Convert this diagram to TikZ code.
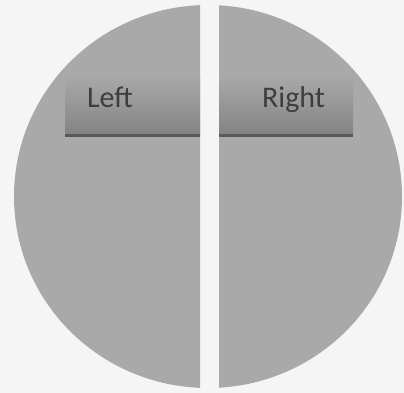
\documentclass[tikz,border=0pt]{standalone}
\usepackage{fontspec}
\setmainfont{Carlito}
\usetikzlibrary{calc}
\definecolor{paper}{HTML}{F5F5F5}
\definecolor{disc}{HTML}{A9A9A9}
\definecolor{tabbot}{HTML}{838383}
\definecolor{tabline}{HTML}{5A5A5A}
\definecolor{ink}{HTML}{3E3E3E}

\begin{document}
\begin{tikzpicture}[x=1pt,y=-1pt,
 tab/.style={anchor=north west,inner sep=0pt,minimum height=60pt,top color=disc,bottom color=tabbot},
 lbl/.style={anchor=base,text=ink,font=\fontsize{30}{30}\selectfont}]
 \fill[paper](0,0)rectangle(404,393);
 \useasboundingbox(0,0)rectangle(404,393);
 % two halves of the disc, white gap between
 \foreach \xa/\xb in {0/200,219/404}{
  \begin{scope}
   \clip(\xa,0)rectangle(\xb,393);
   \fill[disc](208,196.5)ellipse[x radius=194,y radius=191.5];
  \end{scope}}
 \node[tab,minimum width=135pt](lefttab)at(65,75){};
 \node[tab,minimum width=134pt](righttab)at(219,75){};
 \draw[tabline,line width=2.5pt](lefttab.south west)--(lefttab.south east);
 \draw[tabline,line width=2.5pt](righttab.south west)--(righttab.south east);
 \node[lbl](leftlbl)at(110,108){Left};
 \node[lbl](rightlbl)at(293.5,108){Right};
\end{tikzpicture}
\end{document}
